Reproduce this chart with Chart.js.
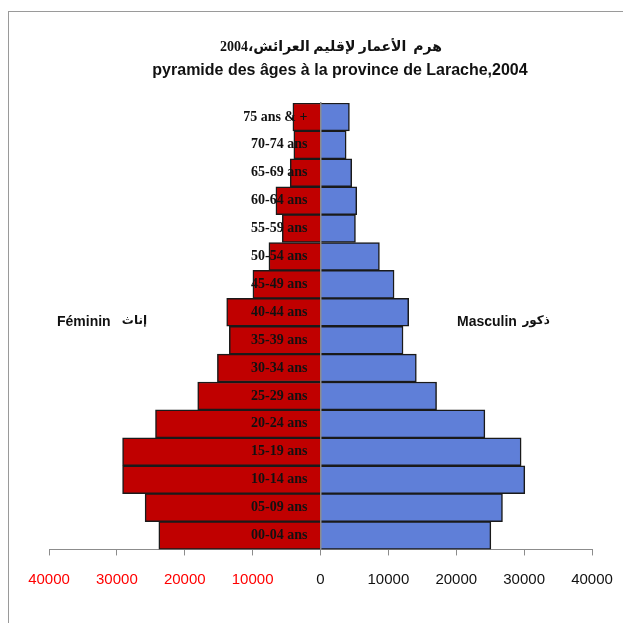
<!DOCTYPE html>
<html>
<head>
<meta charset="utf-8">
<script src="https://cdn.jsdelivr.net/npm/chart.js@4/dist/chart.umd.min.js"></script>
<style>
  html, body { margin: 0; padding: 0; background: #fff; }
  #wrap { width: 623px; height: 623px; }
</style>
</head>
<body>
<div id="wrap"><canvas id="pyramid"></canvas></div>
<script>
// age groups, youngest first
const ageGroups = ['00-04 ans', '05-09 ans', '10-14 ans', '15-19 ans', '20-24 ans', '25-29 ans',
  '30-34 ans', '35-39 ans', '40-44 ans', '45-49 ans', '50-54 ans', '55-59 ans', '60-64 ans',
  '65-69 ans', '70-74 ans', '75 ans & +'];
// women (drawn to the left)
const feminin = [23820, 25840, 29160, 29160, 24310, 18090, 15190, 13430, 13820, 9960, 7600,
  5630, 6570, 4460, 3930, 4070];
// men (drawn to the right)
const masculin = [25100, 26810, 30100, 29560, 24220, 17100, 14120, 12160, 12990, 10840, 8680,
  5150, 5340, 4600, 3780, 4260];
const xTicks = [-40000, -30000, -20000, -10000, 0, 10000, 20000, 30000, 40000];

const titleAr = 'هرم  الأعمار لإقليم العرائش،2004';
const titleFr = 'pyramide des âges à la province de Larache,2004';

// gray frame, titles and side labels
const extras = {
  id: 'extras',
  beforeDraw(chart) {
    const ctx = chart.ctx;
    ctx.save();
    ctx.strokeStyle = '#9a9a9a';
    ctx.lineWidth = 1;
    ctx.strokeRect(8.5, 11.5, 800, 800);
    ctx.restore();
  },
  afterDraw(chart) {
    const ctx = chart.ctx;
    ctx.save();
    ctx.fillStyle = '#111';
    ctx.textBaseline = 'middle';
    ctx.textAlign = 'center';
    ctx.font = 'bold 14px "Liberation Serif", "DejaVu Sans", serif';
    ctx.fillText(titleAr, 331, 47);
    ctx.font = 'bold 16px "Liberation Sans", sans-serif';
    ctx.fillText(titleFr, 340, 71);

    ctx.textAlign = 'left';
    ctx.font = 'bold 14px "Liberation Sans", sans-serif';
    ctx.fillText('Féminin', 57, 322);
    ctx.fillText('Masculin', 457, 322);
    ctx.textAlign = 'right';
    ctx.font = 'bold 12px "DejaVu Sans", sans-serif';
    ctx.fillText('إناث', 147, 321);
    ctx.fillText('ذكور', 550, 321);
    ctx.restore();
  }
};

new Chart(document.getElementById('pyramid'), {
  type: 'bar',
  data: {
    labels: ageGroups,
    datasets: [
      {
        label: 'Féminin',
        data: feminin.map(v => -v),
        backgroundColor: '#C00000',
        borderColor: '#1a1a1a',
        borderWidth: 1.5
      },
      {
        label: 'Masculin',
        data: masculin,
        backgroundColor: '#5F7FD8',
        borderColor: '#1a1a1a',
        borderWidth: 1.5
      }
    ]
  },
  options: {
    indexAxis: 'y',
    responsive: true,
    maintainAspectRatio: false,
    animation: false,
    barPercentage: 1,
    categoryPercentage: 1,
    layout: { padding: { left: 49, right: 31, top: 103, bottom: 18 } },
    plugins: {
      legend: { display: false },
      tooltip: { enabled: false }
    },
    scales: {
      x: {
        stacked: true,
        min: -40000,
        max: 40000,
        afterBuildTicks: (scale) => { scale.ticks = xTicks.map(v => ({ value: v })); },
        grid: { drawOnChartArea: false, drawTicks: true, tickLength: 6, color: '#8c8c8c' },
        border: { display: true, color: '#8c8c8c', width: 1 },
        ticks: {
          padding: 10,
          maxRotation: 0,
          font: { family: '"Liberation Sans", sans-serif', size: 15, lineHeight: 1.97 },
          color: (c) => (c.tick && c.tick.value < 0 ? '#FF0000' : '#111'),
          callback: (v) => String(Math.abs(v))
        }
      },
      y: {
        stacked: true,
        reverse: true,
        position: 'center',
        afterFit: (scale) => { scale.width = 0; },
        grid: { display: false, drawTicks: false },
        border: { display: true, color: '#8c8c8c', width: 1.5, z: 1 },
        ticks: {
          z: 1,
          autoSkip: false,
          padding: 13,
          color: '#111',
          font: { family: '"Liberation Serif", serif', size: 14, weight: 'bold' }
        }
      }
    }
  },
  plugins: [extras]
});
</script>
</body>
</html>
